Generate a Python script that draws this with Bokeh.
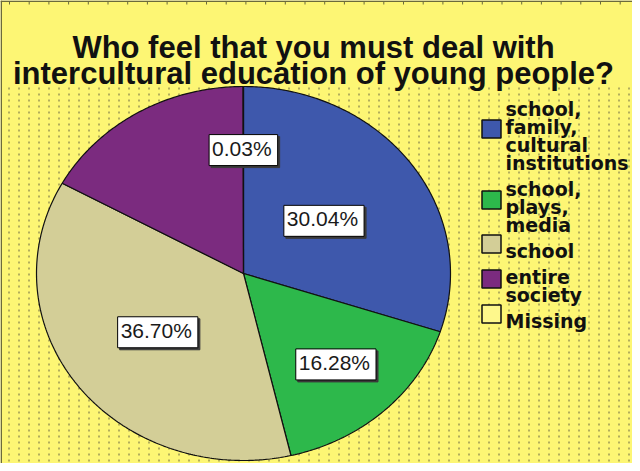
import numpy as np
from bokeh.plotting import figure
from bokeh.models import Range1d
from bokeh.core.properties import value
from bokeh.embed import file_html
from bokeh.resources import INLINE

# ---------------- data ----------------
categories = ["school,\nfamily,\ncultural\ninstitutions", "school,\nplays,\nmedia",
              "school", "entire\nsociety", "Missing"]
percents = [30.04, 16.28, 36.70, 16.95, 0.03]
slice_labels = ["30.04%", "16.28%", "36.70%", "", "0.03%"]
colors = ["#3E58AC", "#2DB84B", "#D3CE97", "#7B2B7F", "#FEF88C"]
title_lines = ["Who feel that you must deal with",
               "intercultural education of young people?"]

# ---------------- layout / style ----------------
W, H = 632, 463
BG = "#FDF674"
CX, CY, RX, RY = 243, 190, 207, 187
label_r = [0.48, 0.66, 0.52, None, 0.66]

p = figure(width=W, height=H, x_range=Range1d(0, W), y_range=Range1d(0, H),
           output_backend="svg", toolbar_location=None, min_border=0)
p.axis.visible = False
p.grid.visible = False
p.background_fill_color = BG
p.border_fill_color = BG
p.outline_line_color = None

# dotted background pattern (below the title)
px_cols = np.arange(8, W, 10) + 0.5
p.segment(x0=px_cols, y0=376, x1=px_cols, y1=0, line_color="#6a6744",
          line_width=1, line_dash="2 4")

# frame border (top & left) with small ticks
p.segment(x0=[0, 0.75], y0=[462.25, 0], x1=[W, 0.75], y1=[462.25, H],
          line_color="#6b6a3c", line_width=1.5)
tk = np.arange(9, W, 19.7)
p.segment(x0=tk, y0=462, x1=tk, y1=459, line_color="#6b6a3c", line_width=1)

# ---------------- pie (elliptical) ----------------
vals = np.array(percents, dtype=float)
cum = np.concatenate([[0.0], np.cumsum(vals)]) / vals.sum()
xs_list, ys_list = [], []
for i in range(len(vals)):
    n = max(3, int(600 * (cum[i + 1] - cum[i])) + 3)
    t = np.linspace(cum[i], cum[i + 1], n) * 2 * np.pi
    xs_list.append(np.concatenate([[CX], CX + RX * np.sin(t), [CX]]))
    ys_list.append(np.concatenate([[CY], CY + RY * np.cos(t), [CY]]))
p.patches(xs_list, ys_list, fill_color=colors, line_color="#111111", line_width=1.2)

# slice labels
lx, ly, lt = [], [], []
for i, lab in enumerate(slice_labels):
    if not lab:
        continue
    mid = (cum[i] + cum[i + 1]) / 2 * 2 * np.pi
    lx.append(CX + RX * label_r[i] * np.sin(mid))
    ly.append(CY + RY * label_r[i] * np.cos(mid))
    lt.append(lab)

pad = (3, 6, 2, 6)
p.text(x=lx, y=ly, text=lt, x_offset=2, y_offset=2, text_align="center",
       text_baseline="middle", text_font=value("Liberation Sans"),
       text_font_size="21px", text_color="#3a3a3a",
       background_fill_color="#3a3a3a", border_line_color="#3a3a3a", padding=pad)
p.text(x=lx, y=ly, text=lt, text_align="center", text_baseline="middle",
       text_font=value("Liberation Sans"), text_font_size="21px",
       text_color="#1a1a1a", background_fill_color="white",
       border_line_color="black", border_line_width=1, padding=pad)

# ---------------- title ----------------
p.text(x=[313, 313], y=[416, 390], text=title_lines, text_align="center",
       text_baseline="alphabetic", text_font=value("Liberation Sans"),
       text_font_style="bold", text_font_size="31px", text_color="#111111")

# ---------------- legend ----------------
sq_x, sq_y, sq_c = [], [], []
tx, ty, tt = [], [], []
base = 471 - 116
for i, cat in enumerate(categories):
    lines = cat.split("\n")
    first = base
    for j, ln in enumerate(lines):
        tx.append(505)
        ty.append(base)
        tt.append(ln)
        if j < len(lines) - 1:
            base -= 18
    last = base
    sq_x.append(491)
    sq_y.append((first + 13 + last) / 2)
    sq_c.append(colors[i])
    base -= 26
p.rect(x=sq_x, y=sq_y, width=19, height=18, fill_color=sq_c,
       line_color="#111111", line_width=1.5)
p.text(x=tx, y=ty, text=tt, text_align="left", text_baseline="alphabetic",
       text_font=value("DejaVu Sans"), text_font_style="bold",
       text_font_size="19px", text_color="#111111")

open("out.html", "w").write(file_html(p, INLINE))
